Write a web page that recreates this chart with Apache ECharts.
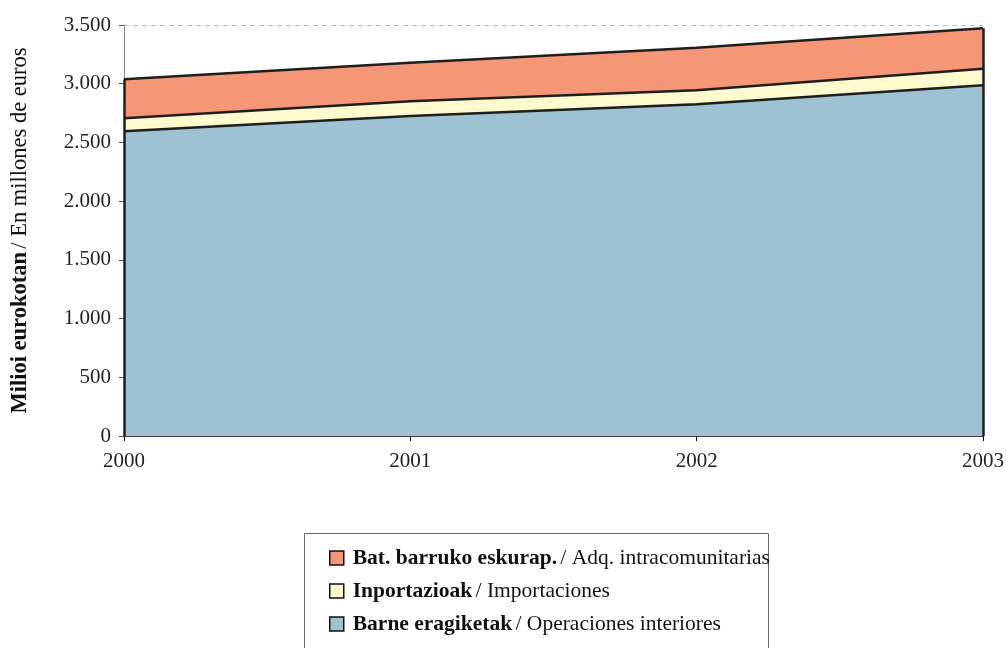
<!DOCTYPE html>
<html><head><meta charset="utf-8">
<script src="https://cdn.jsdelivr.net/npm/echarts@6/dist/echarts.min.js"></script>
<style>html,body{margin:0;padding:0;background:#fff}#c{width:1006px;height:648px}</style>
</head><body><div id="c"></div>
<script>
const years = ['2000', '2001', '2002', '2003'];
const barne = [2595, 2725, 2825, 2986];
const inport = [111, 125, 119, 142];
const batBarruko = [331, 329, 362, 345];
const yTicks = [0, 500, 1000, 1500, 2000, 2500, 3000, 3500];
const names = {
  red: ['Bat. barruko eskurap.', 'Adq. intracomunitarias'],
  yellow: ['Inportazioak', 'Importaciones'],
  blue: ['Barne eragiketak', 'Operaciones interiores']
};
const totals = years.map((y, i) => barne[i] + inport[i] + batBarruko[i]);
const serif = '"Liberation Serif", "Times New Roman", serif';
const lineCol = '#1e1e1e';
const fullName = k => names[k][0] + ' / ' + names[k][1];
const nameMap = {};
['red', 'yellow', 'blue'].forEach(k => nameMap[fullName(k)] = names[k]);

const chart = echarts.init(document.getElementById('c'));
chart.setOption({
  animation: false,
  grid: { left: 124, right: 23, top: 25, bottom: 212, containLabel: false, outerBoundsMode: 'none' },
  graphic: [{ type: 'rect', left: 304, top: 533, shape: { width: 464, height: 130 },
    style: { fill: '#fff', stroke: '#666', lineWidth: 1 }, z: -1 }],
  xAxis: {
    type: 'category', data: years, boundaryGap: false,
    axisLine: { lineStyle: { color: '#000', width: 1.5 } },
    axisTick: { show: true, length: 5, lineStyle: { color: '#000' } },
    axisLabel: { color: '#222', fontFamily: serif, fontSize: 21, margin: 15 }
  },
  yAxis: {
    type: 'value', min: 0, max: 3500, interval: 500,
    name: '{b|Milioi eurokotan} {n|/ En millones de euros}',
    nameLocation: 'middle', nameGap: 92, nameRotate: 90,
    nameTextStyle: { rich: {
      b: { fontFamily: serif, fontWeight: 'bold', fontSize: 22.5, color: '#111' },
      n: { fontFamily: serif, fontSize: 22.5, color: '#111' } } },
    axisLine: { show: true, lineStyle: { color: '#888', width: 1 } },
    axisTick: { show: true, length: 5, lineStyle: { color: '#555' } },
    axisLabel: { color: '#222', fontFamily: serif, fontSize: 21, margin: 13,
      formatter: v => yTicks.includes(v) ? String(v).replace(/\B(?=(\d{3})+(?!\d))/g, '.') : '' },
    splitLine: { show: false }
  },
  legend: {
    orient: 'vertical', left: 329, top: 547,
    data: [fullName('red'), fullName('yellow'), fullName('blue')],
    icon: 'rect', itemWidth: 14, itemHeight: 14, itemGap: 11,
    padding: 0,
    itemStyle: { borderColor: '#111', borderWidth: 1.5 },
    formatter: n => '{b|' + nameMap[n][0] + '} {n|/ ' + nameMap[n][1] + '}',
    textStyle: { padding: [0, 0, 0, 4], rich: {
      b: { fontFamily: serif, fontWeight: 'bold', fontSize: 21.5, color: '#111' },
      n: { fontFamily: serif, fontSize: 21.5, color: '#111' } } }
  },
  series: [
    { name: fullName('blue'), type: 'line', stack: 't', data: barne, showSymbol: false,
      areaStyle: { color: '#9EC2D2', opacity: 1 }, itemStyle: { color: '#9EC2D2' },
      lineStyle: { color: lineCol, width: 2.5 } },
    { name: fullName('yellow'), type: 'line', stack: 't', data: inport, showSymbol: false,
      areaStyle: { color: '#FFFACD', opacity: 1 }, itemStyle: { color: '#FFFACD' },
      lineStyle: { color: lineCol, width: 2.5 } },
    { name: fullName('red'), type: 'line', stack: 't', data: batBarruko, showSymbol: false,
      areaStyle: { color: '#F59677', opacity: 1 }, itemStyle: { color: '#F59677' },
      lineStyle: { color: lineCol, width: 2.5 },
      markLine: { silent: true, symbol: ['none', 'none'], label: { show: false },
        lineStyle: { color: lineCol, width: 2.5, type: 'solid' },
        data: [
          [{ coord: [years[0], 0] }, { coord: [years[0], totals[0]] }],
          [{ coord: [years[3], 0] }, { coord: [years[3], totals[3]] }],
          [{ coord: [years[0], yTicks[yTicks.length - 1]], lineStyle: { color: '#bbb', width: 1, type: [5, 4] } },
           { coord: [years[3], yTicks[yTicks.length - 1]] }]
        ] } }
  ]
});
</script></body></html>
